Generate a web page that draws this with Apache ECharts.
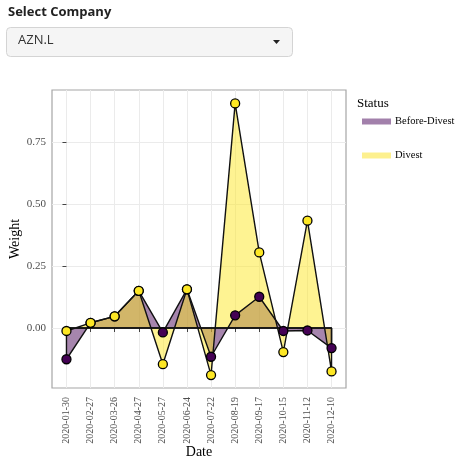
<!DOCTYPE html>
<html>
<head>
<meta charset="utf-8">
<script src="https://cdn.jsdelivr.net/npm/echarts@6/dist/echarts.min.js"></script>
<style>
  html, body { margin: 0; padding: 0; background: #fff; }
  #chart { width: 456px; height: 462px; }
</style>
</head>
<body>
<div id="chart"></div>
<script>
const dates = ["2020-01-30", "2020-02-27", "2020-03-26", "2020-04-27", "2020-05-27", "2020-06-24",
  "2020-07-22", "2020-08-19", "2020-09-17", "2020-10-15", "2020-11-12", "2020-12-10"];
const beforeDivest = [-0.126, 0.021, 0.047, 0.150, -0.018, 0.156, -0.116, 0.051, 0.126, -0.012, -0.010, -0.081];
const divest = [-0.012, 0.021, 0.047, 0.150, -0.146, 0.156, -0.190, 0.906, 0.305, -0.097, 0.433, -0.175];
const yTicks = [0, 0.25, 0.5, 0.75];
const company = "AZN.L";

const serif = "Liberation Serif";
const purple = "#440154", yellow = "#FDE725";
const purpleFill = "rgba(68,1,84,0.48)", yellowFill = "rgba(253,231,37,0.5)";

const idx = dates.map((d, i) => i);
const pts = vals => vals.map((v, i) => [i, v]);
// polygon outline of the area (data line, then back along 0)
const outline = vals => pts(vals).concat([[vals.length - 1, 0], [0, 0], [0, vals[0]]]);

function areaSeries(name, vals, fill) {
  return {
    name: name, type: "line", data: pts(vals), symbol: "none", z: 2,
    lineStyle: { width: 0 },
    areaStyle: { color: fill, opacity: 1, origin: 0 },
    itemStyle: { color: fill }
  };
}
function outlineSeries(vals) {
  return {
    type: "line", data: outline(vals), symbol: "none", z: 3, silent: true,
    lineStyle: { color: "#111", width: 1.4 }
  };
}
function pointSeries(name, vals, color) {
  return {
    name: name, type: "scatter", data: pts(vals), symbolSize: 9, z: 4,
    itemStyle: { color: color, borderColor: "#000", borderWidth: 1.3, opacity: 1 }
  };
}

const chart = echarts.init(document.getElementById("chart"));
chart.setOption({
  animation: false,
  backgroundColor: "#fff",
  textStyle: { fontFamily: serif },
  grid: {
    left: 52, top: 90, width: 294, height: 298, outerBoundsMode: "none", containLabel: false,
    show: true, borderColor: "#a6a6a6", borderWidth: 1.2
  },
  xAxis: {
    type: "value", min: -0.6, max: 11.6,
    name: "Date", nameLocation: "middle", nameGap: 57, nameMoveOverlap: false,
    nameTextStyle: { fontFamily: serif, fontSize: 14, color: "#000" },
    axisLine: { show: false },
    axisTick: { show: true, customValues: idx, length: 4, lineStyle: { color: "#444" } },
    axisLabel: {
      customValues: idx, rotate: 90, margin: 9, fontSize: 10, color: "#4d4d4d", fontFamily: serif,
      formatter: v => dates[Math.round(v)]
    },
    splitLine: { show: true, lineStyle: { color: "#ebebeb", width: 1 } }
  },
  yAxis: {
    type: "value", min: -0.242, max: 0.96,
    name: "Weight", nameLocation: "middle", nameGap: 30, nameRotate: 90, nameMoveOverlap: false,
    nameTextStyle: { fontFamily: serif, fontSize: 14, color: "#000" },
    axisLine: { show: false },
    axisTick: { show: true, customValues: yTicks, length: 4, lineStyle: { color: "#444" } },
    axisLabel: {
      customValues: yTicks, margin: 6, fontSize: 11, color: "#4d4d4d", fontFamily: serif,
      formatter: v => v.toFixed(2)
    },
    splitLine: { show: true, lineStyle: { color: "#ebebeb", width: 1 } }
  },
  legend: {
    orient: "vertical", left: 357, top: 111, itemGap: 23,
    icon: "rect", itemWidth: 29, itemHeight: 6,
    textStyle: { fontFamily: serif, fontSize: 10.5, color: "#000", padding: [0, 0, 0, -1] },
    data: [
      { name: "Before-Divest", itemStyle: { color: "#a280ab" } },
      { name: "Divest", itemStyle: { color: "#fdf08e" } }
    ]
  },
  graphic: [
    { type: "text", left: 8, top: 6, style: { text: "Select Company", font: "bold 13px 'Open Sans'", fill: "#222" } },
    { type: "rect", left: 6, top: 27, shape: { width: 286, height: 29, r: 4 }, style: { fill: "#f5f5f5", stroke: "#d4d4d4", lineWidth: 1 } },
    { type: "text", left: 18, top: 34, style: { text: company, font: "13px 'Open Sans'", fill: "#333" } },
    { type: "polygon", shape: { points: [[273, 40], [280, 40], [276.5, 44]] }, style: { fill: "#222" } },
    { type: "text", left: 357, top: 97, style: { text: "Status", font: "13px 'Liberation Serif'", fill: "#000" } }
  ],
  series: [
    areaSeries("Before-Divest", beforeDivest, purpleFill),
    areaSeries("Divest", divest, yellowFill),
    outlineSeries(beforeDivest),
    outlineSeries(divest),
    pointSeries("Before-Divest", beforeDivest, purple),
    pointSeries("Divest", divest, yellow)
  ]
});
</script>
</body>
</html>
